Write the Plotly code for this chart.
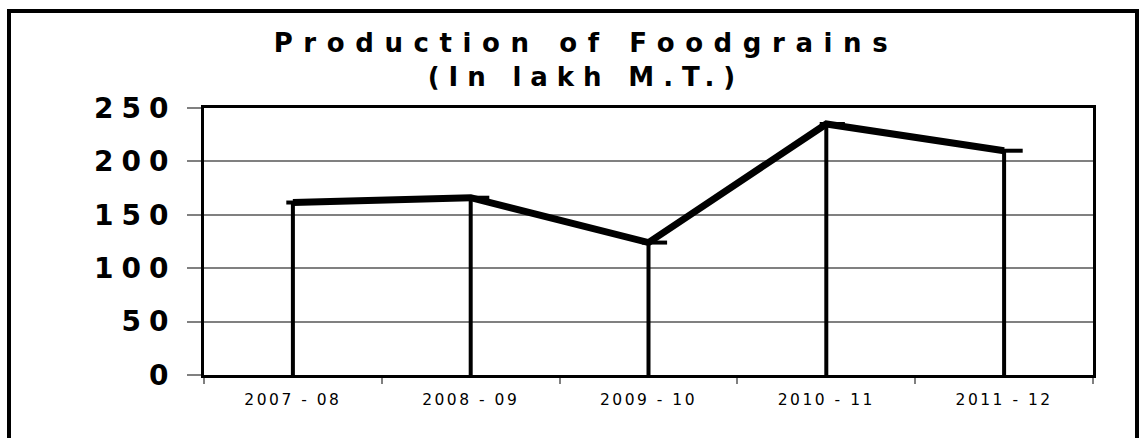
import plotly.graph_objects as go

# Foodgrain production by agricultural year (lakh metric tonnes)
seasons = ["2007 - 08", "2008 - 09", "2009 - 10", "2010 - 11", "2011 - 12"]
production = [161.5, 166, 124, 235, 210]

y_ticks = [0, 50, 100, 150, 200, 250]
y_tick_labels = ["0", "50", "100", "150", "200", "250"]

title_line1 = "Production of Foodgrains"
title_line2 = "(In lakh M.T.)"

W, H = 1141, 438
M_L, M_R, M_T, M_B = 204, 48, 108, 63
PLOT_W = W - M_L - M_R
PLOT_H = H - M_T - M_B
CAT_W = PLOT_W / len(seasons)
MARK_SHIFT_PX = 6  # point markers sit slightly right of each category centre


def spaced(text, px):
    """Wrap text so it renders with extra letter spacing."""
    return f'<span style="letter-spacing:{px}px">{text}</span>'


def px_to_paper_x(px):
    return (px - M_L) / PLOT_W


def px_to_paper_y(py):
    return (H - M_B - py) / PLOT_H


fig = go.Figure()

fig.add_trace(
    go.Scatter(
        x=seasons,
        y=production,
        mode="lines",
        line=dict(color="black", width=7),
        # vertical drop lines from each point down to the baseline
        error_y=dict(type="data", symmetric=False,
                     array=[0 for _ in production], arrayminus=production,
                     width=0, thickness=4, color="black"),
        hoverinfo="skip",
        showlegend=False,
    )
)

# short dash markers at each data point
fig.add_trace(
    go.Scatter(
        x=seasons,
        y=production,
        xaxis="x2",
        mode="markers",
        marker=dict(symbol="line-ew", size=18, color="black",
                    line=dict(color="black", width=4)),
        hoverinfo="skip",
        showlegend=False,
    )
)

shift = MARK_SHIFT_PX / CAT_W

fig.update_layout(
    xaxis=dict(
        type="category",
        categoryarray=seasons,
        range=[-0.5, len(seasons) - 0.5],
        tickmode="array",
        tickvals=seasons,
        ticktext=[spaced(s, 2.5) for s in seasons],
        tickson="boundaries",
        ticks="outside",
        ticklen=6,
        tickwidth=1.5,
        tickcolor="#808080",
        showgrid=False,
        showline=True,
        mirror=True,
        linecolor="black",
        linewidth=3,
        tickfont=dict(family="DejaVu Sans", size=15.5, color="black"),
        ticklabelstandoff=8,
    ),
    xaxis2=dict(
        type="category",
        categoryarray=seasons,
        overlaying="x",
        range=[-0.5 - shift, len(seasons) - 0.5 - shift],
        visible=False,
    ),
    yaxis=dict(
        range=[0, 250],
        tickmode="array",
        tickvals=y_ticks,
        ticktext=[spaced(t, 8) for t in y_tick_labels],
        ticks="outside",
        ticklen=14,
        tickwidth=2,
        tickcolor="#808080",
        showgrid=True,
        gridcolor="#808080",
        gridwidth=1.5,
        zeroline=False,
        showline=True,
        mirror=True,
        linecolor="black",
        linewidth=3,
        tickfont=dict(family="DejaVu Sans", size=28, color="black", weight="bold"),
        ticklabelstandoff=5,
    ),
)

# outer chart frame
fig.add_shape(
    type="rect", xref="paper", yref="paper",
    x0=px_to_paper_x(9), x1=px_to_paper_x(1137),
    y0=px_to_paper_y(450), y1=px_to_paper_y(11),
    line=dict(color="black", width=4),
    fillcolor="rgba(0,0,0,0)",
)

fig.update_layout(
    width=W,
    height=H,
    margin=dict(l=M_L, r=M_R, t=M_T, b=M_B),
    paper_bgcolor="white",
    plot_bgcolor="white",
    title=dict(
        text=spaced(title_line1, 10.6) + "<br>" + spaced(title_line2, 8.9),
        x=586 / W,
        xanchor="center",
        xref="container",
        y=1 - 52 / H,
        yanchor="top",
        yref="container",
        font=dict(family="DejaVu Sans", size=26, color="black", weight="bold"),
    ),
)

fig.write_html("out.html")
